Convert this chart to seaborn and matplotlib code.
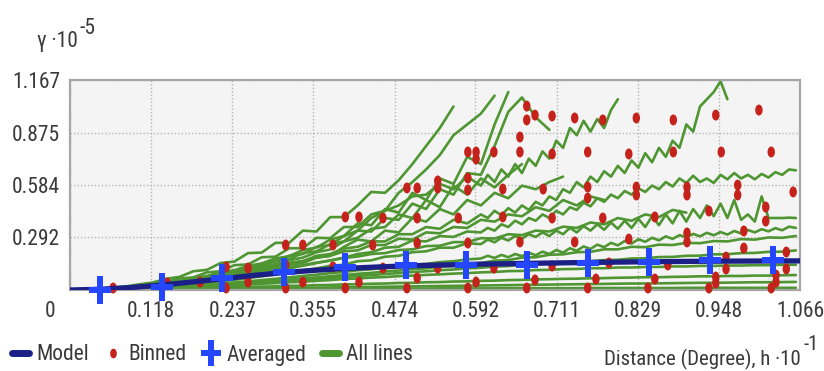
import os
import numpy as np
import pandas as pd
import matplotlib
matplotlib.use("Agg")
import matplotlib.pyplot as plt
import seaborn as sns
from matplotlib.lines import Line2D
from matplotlib.path import Path
from matplotlib.transforms import ScaledTranslation, Affine2D
from matplotlib import font_manager
from matplotlib.font_manager import FontProperties

# ---------------- data (gamma in units of 1e-5, h in units of 1e-1 degree) ----------------
h_grid = [0.00, 0.02, 0.04, 0.06, 0.08, 0.10, 0.12, 0.14, 0.16, 0.18, 0.20, 0.22, 0.24, 0.26,
          0.28, 0.30, 0.32, 0.34, 0.36, 0.38, 0.40, 0.42, 0.44, 0.46, 0.48, 0.50, 0.52, 0.54,
          0.56, 0.58, 0.60, 0.62, 0.64, 0.66, 0.68, 0.70, 0.72, 0.74, 0.76, 0.78, 0.80, 0.82,
          0.84, 0.86, 0.88, 0.90, 0.92, 0.94, 0.96, 0.98, 1.00, 1.02, 1.04, 1.06]
# coarse lags up to 0.60, then finer lags (for the long, jagged lines)
h_hybrid = [0.00, 0.02, 0.04, 0.06, 0.08, 0.10, 0.12, 0.14, 0.16, 0.18, 0.20, 0.22, 0.24, 0.26,
            0.28, 0.30, 0.32, 0.34, 0.36, 0.38, 0.40, 0.42, 0.44, 0.46, 0.48, 0.50, 0.52, 0.54,
            0.56, 0.58, 0.60, 0.61, 0.62, 0.63, 0.64, 0.65, 0.66, 0.67, 0.68, 0.69, 0.70, 0.71,
            0.72, 0.73, 0.74, 0.75, 0.76, 0.77, 0.78, 0.79, 0.80, 0.81, 0.82, 0.83, 0.84, 0.85,
            0.86, 0.87, 0.88, 0.89, 0.90, 0.91, 0.92, 0.93, 0.94, 0.95, 0.96, 0.97, 0.98, 0.99,
            1.00, 1.01, 1.02, 1.03, 1.04, 1.05, 1.06]

dir_a = [0, .003, .006, .013, .019, .031, .041, .062, .073, .104, .112, .150, .158, .205, .208,
         .262, .262, .330, .325, .405, .405, .470, .545, .540, .610, .700, .800, .900, 1.02]
dir_b = [0, .002, .006, .009, .018, .023, .037, .044, .064, .070, .098, .104, .138, .142, .182,
         .185, .232, .232, .290, .288, .350, .350, .420, .440, .540, .600, .670, .750, .860, .920,
         .980, 1.08]
dir_c = [0, .002, .005, .010, .014, .023, .029, .042, .050, .068, .078, .099, .110, .134, .148,
         .175, .188, .222, .236, .280, .300, .370, .360, .450, .430, .540, .500, .620, .590, .740,
         .700, .920, 1.10]
dir_d = [0, .001, .004, .008, .013, .020, .027, .037, .046, .060, .071, .088, .100, .120, .134,
         .160, .172, .205, .215, .255, .270, .330, .325, .400, .390, .480, .450, .560, .530, .650,
         .640, .800, .990, 1.07, .960, .890]
dir_i = [0, .002, .004, .007, .011, .016, .022, .029, .037, .046, .056, .067, .079, .092, .106,
         .120, .140, .150, .180, .190, .240, .280, .270, .330, .320, .400, .380, .450, .420, .500,
         .470, .540, .510, .580, .560, .600, .630]
dir_p = [0, .002, .005, .009, .014, .020, .027, .036, .046, .057, .069, .082, .096, .111, .127,
         .144, .165, .180, .210, .225, .270, .290, .340, .350, .420, .400, .500, .460, .580, .530,
         .620, .570, .640, .700]
dir_q = [0, .002, .005, .009, .014, .020, .027, .035, .044, .054, .065, .077, .090, .104, .118,
         .133, .150, .160, .180, .190, .215, .220, .250, .250, .285, .280, .320, .315, .350, .345,
         .390, .380, .420, .410, .460, .440, .500, .470, .520, .500]
dir_r = [0, .001, .003, .006, .010, .015, .021, .028, .036, .045, .055, .066, .077, .089, .101,
         .113, .126, .138, .152, .163, .178, .186, .200, .205, .222, .226, .244, .246, .266, .266,
         .288, .286, .310, .305, .330, .325, .352, .345, .375, .365, .400, .385, .420, .405, .445,
         .430]
dir_k2 = [0, .001, .002, .003, .005, .007, .010, .013, .017, .021, .025, .030, .035, .040, .046,
          .052, .058, .064, .070, .077, .083, .090, .095, .103, .108, .116, .120, .130, .134, .145,
          .150, .163, .166, .180, .182, .196, .198, .210, .212, .226, .226, .240, .238, .252, .250,
          .262, .260, .272, .270, .283, .280, .292, .290, .300]
dir_s = [0, .001, .002, .003, .005, .007, .009, .012, .015, .018, .022, .026, .030, .035, .040,
         .045, .050, .056, .061, .067, .072, .078, .083, .089, .094, .100, .104, .110, .114, .120,
         .124, .130, .133, .140, .142, .149, .151, .158, .160, .166, .168, .175, .176, .183, .184,
         .190, .191, .198, .199, .205, .206, .212, .213, .220]
dir_l = [0, .001, .003, .003, .006, .006, .009, .010, .014, .016, .020, .022, .027, .030, .035,
         .038, .043, .046, .051, .055, .061, .064, .069, .072, .077, .080, .084, .087, .091, .094,
         .098, .100, .105, .106, .111, .112, .116, .117, .121, .121, .125, .125, .128, .128, .131,
         .131, .134, .134, .136, .136, .138, .138, .140, .140]
dir_m = [0, .001, .001, .002, .003, .004, .005, .006, .008, .009, .011, .013, .015, .016, .019,
         .020, .023, .024, .027, .028, .031, .032, .035, .036, .039, .040, .043, .044, .047, .048,
         .051, .052, .055, .056, .059, .060, .062, .063, .065, .066, .068, .069, .071, .071, .073,
         .074, .076, .076, .078, .078, .080, .080, .082, .083]
dir_o = [0, 0, .001, .001, .002, .002, .003, .003, .004, .005, .006, .006, .007, .008, .009,
         .010, .011, .012, .013, .014, .015, .016, .017, .018, .019, .020, .021, .022, .023, .024,
         .025, .026, .027, .028, .029, .030, .031, .032, .033, .034, .035, .036, .036, .037, .038,
         .039, .040, .040, .041, .042, .043, .043, .044, .045]
dir_n = [0, 0, .001, .001, .002, .002, .002, .003, .003, .003, .004, .004, .004, .005, .005,
         .005, .006, .006, .006, .007, .007, .007, .007, .008, .008, .008, .008, .009, .009, .009,
         .009, .009, .010, .010, .010, .010, .010, .010, .011, .011, .011, .011, .011, .011, .011,
         .012, .012, .012, .012, .012, .012, .012, .012, .012]

# lines on the hybrid lag grid
dir_f = [0, .002, .005, .008, .013, .020, .028, .037, .048, .060, .074, .090, .106, .124, .144,
         .160, .190, .200, .240, .250, .300, .330, .400, .440, .470, .520, .530, .590, .560, .630,
         .580,
         .640, .600, .670, .630, .700, .650, .730, .690, .770, .730, .830, .790, .900, .860, .940,
         .880, .950, .900, 1.000, 1.060]
dir_g = [0, .002, .004, .007, .011, .016, .022, .030, .039, .049, .060, .072, .085, .100, .115,
         .130, .150, .160, .190, .200, .230, .240, .270, .270, .310, .310, .350, .340, .390, .370,
         .420,
         .400, .440, .415, .455, .430, .470, .445, .490, .470, .520, .500, .560, .540, .600, .570,
         .630, .600, .660, .630, .690, .650, .720, .680, .760, .710, .790, .740, .830, .790, .920,
         .880, 1.020, 1.060, 1.100, 1.160, 1.060]
dir_h = [0, .002, .004, .006, .009, .013, .018, .024, .031, .039, .048, .058, .069, .081, .094,
         .108, .120, .135, .150, .165, .180, .200, .210, .235, .240, .275, .270, .300, .295, .325,
         .320,
         .345, .330, .365, .350, .385, .365, .400, .385, .420, .400, .440, .420, .460, .445, .485,
         .465, .510, .490, .530, .510, .550, .530, .565, .545, .580, .560, .600, .575, .620, .595,
         .635, .600, .620, .595, .640, .615, .650, .620, .640, .615, .645, .625, .655, .640, .670,
         .665]
dir_j = [0, .001, .003, .005, .008, .011, .015, .020, .026, .033, .040, .048, .057, .066, .076,
         .087, .098, .110, .120, .135, .140, .160, .165, .185, .190, .210, .215, .235, .235, .260,
         .255,
         .280, .265, .290, .275, .300, .285, .310, .295, .320, .300, .330, .310, .345, .320, .355,
         .330, .365, .335, .375, .340, .385, .345, .395, .350, .410, .360, .420, .370, .440, .380,
         .450, .400, .470, .410, .480, .400, .500, .390, .420, .380, .520, .400, .400, .400, .402,
         .400]
dir_k = [0, .001, .002, .004, .006, .009, .012, .016, .020, .025, .030, .036, .042, .048, .055,
         .062, .070, .078, .085, .094, .100, .110, .115, .125, .130, .140, .145, .155, .160, .170,
         .175,
         .190, .178, .195, .182, .200, .188, .207, .193, .213, .200, .222, .208, .232, .218, .242,
         .228, .252, .238, .262, .248, .272, .258, .282, .268, .290, .276, .298, .284, .305, .292,
         .312, .298, .318, .304, .322, .308, .328, .314, .333, .320, .338, .326, .344, .332, .352,
         .345]

binned_h = [0.063, 0.142, 0.190, 0.228, 0.228, 0.260, 0.260, 0.315, 0.315, 0.315, 0.340, 0.340,
            0.384, 0.384, 0.402, 0.402, 0.422, 0.422, 0.442, 0.457, 0.457, 0.492, 0.507, 0.507,
            0.507, 0.507, 0.492, 0.537, 0.537, 0.537, 0.567, 0.581, 0.581, 0.581, 0.581, 0.593,
            0.593, 0.593, 0.581, 0.619, 0.619, 0.632, 0.632, 0.657, 0.657, 0.657, 0.667, 0.667,
            0.679, 0.691, 0.667, 0.679, 0.704, 0.704, 0.704, 0.704, 0.737, 0.737, 0.756, 0.756,
            0.756, 0.756, 0.768, 0.778, 0.778, 0.787, 0.816, 0.816, 0.827, 0.827, 0.827, 0.844,
            0.854, 0.854, 0.873, 0.881, 0.881, 0.901, 0.901, 0.901, 0.901, 0.943, 0.951, 0.933,
            0.943, 0.943, 0.933, 1.006, 1.024, 0.975, 0.975, 0.984, 0.984, 0.958, 0.958, 1.016,
            1.016, 1.046, 1.046, 1.031, 1.031, 1.024, 1.056]
binned_gamma = [0.011, 0.039, 0.044, 0.128, 0.011, 0.122, 0.044, 0.250, 0.139, 0.011, 0.250, 0.044,
                0.250, 0.128, 0.406, 0.011, 0.406, 0.044, 0.250, 0.400, 0.122, 0.567, 0.567, 0.400,
                0.261, 0.067, 0.011, 0.606, 0.567, 0.122, 0.400, 0.767, 0.622, 0.556, 0.261, 0.767,
                0.728, 0.044, 0.011, 0.767, 0.122, 0.561, 0.406, 0.850, 0.767, 0.267, 1.022, 0.945,
                0.972, 0.561, 0.011, 0.056, 0.967, 0.756, 0.400, 0.133, 0.956, 0.267, 0.767, 0.572,
                0.511, 0.011, 0.061, 0.945, 0.400, 0.150, 0.756, 0.283, 0.956, 0.572, 0.528, 0.011,
                0.406, 0.061, 0.139, 0.945, 0.767, 0.572, 0.528, 0.317, 0.267, 0.972, 0.767, 0.439,
                0.072, 0.039, 0.011, 1.000, 0.767, 0.583, 0.528, 0.328, 0.233, 0.183, 0.117, 0.461,
                0.383, 0.211, 0.117, 0.083, 0.044, 0.011, 0.545]

avg_h = [0.044, 0.135, 0.222, 0.313, 0.401, 0.490, 0.578, 0.667, 0.756, 0.846, 0.935, 1.026]
avg_gamma = [0.000, 0.017, 0.067, 0.100, 0.128, 0.139, 0.139, 0.139, 0.150, 0.156, 0.167, 0.167]

model_h = [0.0, 0.044, 0.09, 0.135, 0.18, 0.222, 0.27, 0.313, 0.36, 0.401, 0.45, 0.49, 0.578,
           0.667, 0.756, 0.846, 0.935, 1.066]
model_gamma = [0.0, 0.004, 0.014, 0.028, 0.045, 0.062, 0.082, 0.097, 0.110, 0.120, 0.128, 0.134,
               0.142, 0.148, 0.153, 0.157, 0.160, 0.162]

x_ticks = [0.118, 0.237, 0.355, 0.474, 0.592, 0.711, 0.829, 0.948, 1.066]
x_tick_labels = ["0.118", "0.237", "0.355", "0.474", "0.592", "0.711", "0.829", "0.948", "1.066"]
y_ticks = [0.292, 0.584, 0.875, 1.167]
y_tick_labels = ["0.292", "0.584", "0.875", "1.167"]

legend_labels = ["Model", "Binned", "Averaged", "All lines"]

# ---------------- style ----------------
sns.set_theme(style="white")


def pick_font():
    files = [f.fname for f in font_manager.fontManager.ttflist]
    prefs = ["liberationsansnarrow-regular", "robotocondensed-regular", "dejavusanscondensed.ttf",
             "notosans-condensed", "opensans-condensed"]
    for p in prefs:
        for fn in files:
            if p in os.path.basename(fn).lower().replace(" ", ""):
                return fn
    for fn in files:
        b = os.path.basename(fn).lower()
        if ("condensed" in b or "narrow" in b) and "sans" in b and not any(
                k in b for k in ("bold", "oblique", "italic", "light", "thin", "black", "medium")):
            return fn
    return None


font_file = pick_font()
if font_file:
    base_fp = FontProperties(fname=font_file)
    fsize = 15.5
else:
    base_fp = FontProperties(family="Liberation Sans")
    fsize = 13.5
plt.rcParams["font.family"] = [base_fp.get_name(), "Liberation Sans", "DejaVu Sans"]


def fp(size):
    p = base_fp.copy()
    p.set_size(size)
    return p


GREEN = "#4f9632"
RED = "#c4221b"
NAVY = "#1b1f86"
BLUE = "#2546ff"
TXT = "#3a3a3a"

fig = plt.figure(figsize=(8.24, 3.71), dpi=100)
fig.patch.set_facecolor("white")
ax = fig.add_axes([70 / 824, 1 - 290 / 371, 730 / 824, 210 / 371])
ax.set_facecolor("#f4f4f4")

coarse_lines = [("a", dir_a), ("b", dir_b), ("c", dir_c), ("d", dir_d), ("i", dir_i),
                ("p", dir_p), ("q", dir_q), ("r", dir_r), ("k2", dir_k2), ("s", dir_s),
                ("l", dir_l), ("m", dir_m), ("o", dir_o), ("n", dir_n)]
hybrid_lines = [("f", dir_f), ("g", dir_g), ("h", dir_h), ("j", dir_j), ("k", dir_k)]
rows = []
for name, vals in coarse_lines:
    for hx, gv in zip(h_grid, vals):
        rows.append((name, hx, gv))
for name, vals in hybrid_lines:
    for hx, gv in zip(h_hybrid, vals):
        rows.append((name, hx, gv))
df_lines = pd.DataFrame(rows, columns=["direction", "h", "gamma"])

sns.lineplot(data=df_lines, x="h", y="gamma", units="direction", estimator=None, sort=False,
             color=GREEN, lw=1.9, ax=ax, legend=False, zorder=2)

# vertically elongated dot marker
ellipse = Path.unit_circle().transformed(Affine2D().scale(0.68, 1.0))
df_bin = pd.DataFrame({"h": binned_h, "gamma": binned_gamma})
sns.scatterplot(data=df_bin, x="h", y="gamma", color=RED, s=62, marker=ellipse, edgecolor="none",
                ax=ax, legend=False, zorder=3, clip_on=False)

df_model = pd.DataFrame({"h": model_h, "gamma": model_gamma})
sns.lineplot(data=df_model, x="h", y="gamma", color=NAVY, lw=3.8, estimator=None, sort=False,
             ax=ax, legend=False, zorder=4)

# plus marker: taller than wide
hw, ht = 0.78, 0.22
cross = Path([(-ht, 1), (ht, 1), (ht, ht), (hw, ht), (hw, -ht), (ht, -ht), (ht, -1), (-ht, -1),
              (-ht, -ht), (-hw, -ht), (-hw, ht), (-ht, ht), (-ht, 1)], closed=True)
df_avg = pd.DataFrame({"h": avg_h, "gamma": avg_gamma})
sns.scatterplot(data=df_avg, x="h", y="gamma", marker=cross, s=410, linewidth=0, color=BLUE,
                ax=ax, legend=False, zorder=5, clip_on=False)

ax.set_xlim(0, 1.066)
ax.set_ylim(0, 1.167)
ax.set_xticks([0.0] + x_ticks)
ax.set_xticklabels(["0"] + x_tick_labels)
ax.set_yticks(y_ticks)
ax.set_yticklabels(y_tick_labels)
ax.set_xlabel("")
ax.set_ylabel("")
ax.tick_params(axis="both", length=0, colors=TXT)
ax.tick_params(axis="x", pad=8)
ax.tick_params(axis="y", pad=7)
for lab in ax.get_xticklabels() + ax.get_yticklabels():
    lab.set_fontproperties(fp(fsize))
lab0 = ax.get_xticklabels()[0]
lab0.set_transform(lab0.get_transform() + ScaledTranslation(-20 / 100, 0, fig.dpi_scale_trans))

ax.grid(True, color="#b5b5b5", linestyle=(0, (1, 1.5)), linewidth=1.0)
ax.set_axisbelow(True)
for side, sp in ax.spines.items():
    sp.set_visible(True)
    sp.set_color("#a6a6a6")
    sp.set_linewidth(1.6)

# axis titles
fig.text(37 / 824, 1 - 42 / 371, "γ ·10", fontproperties=fp(fsize), color=TXT, ha="left",
         va="center")
fig.text(79 / 824, 1 - 29 / 371, "-5", fontproperties=fp(fsize), color=TXT, ha="left",
         va="center")
fig.text(801 / 824, 1 - 359 / 371, "Distance (Degree), h ·10", fontproperties=fp(fsize * 0.97),
         color=TXT, ha="right", va="center")
fig.text(803 / 824, 1 - 345 / 371, "-1", fontproperties=fp(fsize * 0.95), color=TXT, ha="left",
         va="center")

# legend
handles = [Line2D([], [], color=NAVY, lw=5),
           Line2D([], [], color=RED, marker=ellipse, ls="none", markersize=7, markeredgewidth=0),
           Line2D([], [], color=BLUE, marker=cross, ls="none", markersize=19, markeredgewidth=0),
           Line2D([], [], color=GREEN, lw=5)]
leg = fig.legend(handles, legend_labels, loc="center left", bbox_to_anchor=(0.014, 1 - 355 / 371),
                 ncol=4, frameon=False, prop=fp(fsize), handlelength=0.8, handletextpad=0.35,
                 columnspacing=0.7, borderaxespad=0, borderpad=0)
for t in leg.get_texts():
    t.set_color(TXT)

fig.savefig("out.png", dpi=100)
